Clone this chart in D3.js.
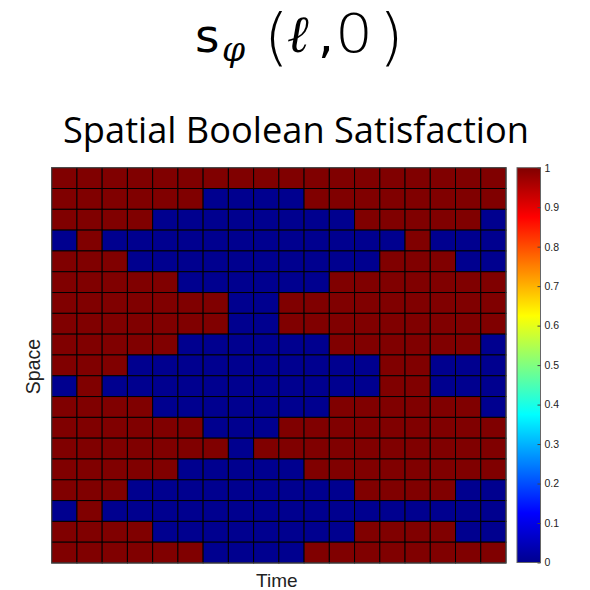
<!DOCTYPE html>
<html>
<head>
<meta charset="utf-8">
<script src="https://cdn.jsdelivr.net/npm/d3@7"></script>
<style>
  body { margin: 0; background: #fff; }
</style>
</head>
<body>
<svg></svg>
<script>
// satisfaction grid: one row per space location (top to bottom), one column per time step
var grid = [
  [1,1,1,1,1,1,1,1,1,1,1,1,1,1,1,1,1,1],
  [1,1,1,1,1,1,0,0,0,0,1,1,1,1,1,1,1,1],
  [1,1,1,1,0,0,0,0,0,0,0,0,1,1,1,1,1,0],
  [0,1,0,0,0,0,0,0,0,0,0,0,0,0,1,0,0,0],
  [1,1,1,0,0,0,0,0,0,0,0,0,0,1,1,1,0,0],
  [1,1,1,1,1,0,0,0,0,0,0,1,1,1,1,1,1,1],
  [1,1,1,1,1,1,1,0,0,1,1,1,1,1,1,1,1,1],
  [1,1,1,1,1,1,1,0,0,1,1,1,1,1,1,1,1,1],
  [1,1,1,1,1,0,0,0,0,0,0,1,1,1,1,1,1,0],
  [1,1,1,0,0,0,0,0,0,0,0,0,0,1,1,0,0,0],
  [0,1,0,0,0,0,0,0,0,0,0,0,0,1,1,0,0,0],
  [1,1,1,1,0,0,0,0,0,0,0,1,1,1,1,1,1,0],
  [1,1,1,1,1,1,0,0,0,1,1,1,1,1,1,1,1,1],
  [1,1,1,1,1,1,1,0,1,1,1,1,1,1,1,1,1,1],
  [1,1,1,1,1,0,0,0,0,0,1,1,1,1,1,1,1,1],
  [1,1,1,0,0,0,0,0,0,0,0,0,1,1,1,1,0,0],
  [0,1,0,0,0,0,0,0,0,0,0,0,0,0,0,0,0,0],
  [1,1,1,1,0,0,0,0,0,0,0,0,1,1,1,1,0,0],
  [1,1,1,1,1,1,0,0,0,0,1,1,1,1,1,1,1,1]
];

var colorbarTicks = [0, 0.1, 0.2, 0.3, 0.4, 0.5, 0.6, 0.7, 0.8, 0.9, 1];

// matlab "jet" style colour stops
var jetStops = [0, 0.125, 0.375, 0.625, 0.875, 1];
var jetColors = ["#00008f", "#0000ff", "#00ffff", "#ffff00", "#ff0000", "#800000"];

var W = 590, H = 590;
var plot = {left: 51.7, top: 167.7, right: 506, bottom: 563};
var cbar = {left: 517, right: 540.5, top: 167.7, bottom: 562.5};

var svg = d3.select('svg')
  .attr('width', W)
  .attr('height', H)
  .style('background', '#fff');

var jet = d3.scaleLinear()
  .domain(jetStops)
  .range(jetColors)
  .interpolate(d3.interpolateRgb);

var nCols = grid[0].length;
var nRows = grid.length;

var x = d3.scaleBand()
  .domain(d3.range(nCols))
  .range([plot.left, plot.right]);

var y = d3.scaleBand()
  .domain(d3.range(nRows))
  .range([plot.top, plot.bottom]);

// formula title, set glyph by glyph like a math renderer would
var sans = '"DejaVu Sans", sans-serif';
var serif = '"DejaVu Serif", serif';
var glyphs = [
  {t: 's',      x: 195, y: 52, size: 47, font: sans},
  {t: '\u03C6', x: 222, y: 61, size: 33, font: serif, style: 'italic'},
  {t: '(',      x: 264, y: 58, size: 63, font: sans,  weight: '200'},
  {t: '\u2113', x: 287, y: 52, size: 52, font: serif, style: 'italic'},
  {t: ',',      x: 318, y: 52, size: 50, font: sans},
  {t: '0',      x: 335, y: 52, size: 53, font: sans, weight: '200', len: 38},
  {t: ')',      x: 379, y: 58, size: 63, font: sans,  weight: '200'}
];
svg.append('g')
  .selectAll('text')
  .data(glyphs)
  .enter()
  .append('text')
  .attr('x', d => d.x)
  .attr('y', d => d.y)
  .attr('textLength', d => d.len || null)
  .attr('lengthAdjust', 'spacingAndGlyphs')
  .style('font-family', d => d.font)
  .style('font-size', d => d.size + 'px')
  .style('font-weight', d => d.weight || 'normal')
  .style('font-style', d => d.style || 'normal')
  .style('fill', '#000')
  .text(d => d.t);

svg.append('text')
  .attr('x', 296)
  .attr('y', 143)
  .attr('text-anchor', 'middle')
  .attr('textLength', 466)
  .attr('lengthAdjust', 'spacingAndGlyphs')
  .style('font-family', '"Open Sans", "Noto Sans", sans-serif')
  .style('font-size', '36px')
  .style('fill', '#000')
  .text('Spatial Boolean Satisfaction');

// heatmap cells
var cells = [];
grid.forEach(function(row, r) {
  row.forEach(function(v, c) { cells.push({r: r, c: c, v: v}); });
});

svg.append('g')
  .selectAll('rect')
  .data(cells)
  .enter()
  .append('rect')
  .attr('x', d => x(d.c))
  .attr('y', d => y(d.r))
  .attr('width', x.bandwidth())
  .attr('height', y.bandwidth())
  .attr('fill', d => jet(d.v))
  .attr('stroke', '#000')
  .attr('stroke-width', 1);

svg.append('rect')
  .attr('x', plot.left)
  .attr('y', plot.top)
  .attr('width', plot.right - plot.left)
  .attr('height', plot.bottom - plot.top)
  .attr('fill', 'none')
  .attr('stroke', '#555')
  .attr('stroke-width', 1);

// axis labels
svg.append('text')
  .attr('x', (plot.left + plot.right) / 2 - 2)
  .attr('y', 587)
  .attr('text-anchor', 'middle')
  .style('font-family', '"Liberation Sans", Arial, sans-serif')
  .style('font-size', '19px')
  .style('fill', '#222')
  .text('Time');

svg.append('text')
  .attr('transform', 'translate(40, 366.5) rotate(-90)')
  .attr('text-anchor', 'middle')
  .style('font-family', '"Liberation Sans", Arial, sans-serif')
  .style('font-size', '19.5px')
  .style('fill', '#222')
  .text('Space');

// colorbar
var defs = svg.append('defs');
var grad = defs.append('linearGradient')
  .attr('id', 'jet')
  .attr('x1', 0).attr('y1', 1)
  .attr('x2', 0).attr('y2', 0);
grad.selectAll('stop')
  .data(d3.range(0, 1.0001, 1 / 64))
  .enter()
  .append('stop')
  .attr('offset', d => d)
  .attr('stop-color', d => jet(d));

svg.append('rect')
  .attr('x', cbar.left)
  .attr('y', cbar.top)
  .attr('width', cbar.right - cbar.left)
  .attr('height', cbar.bottom - cbar.top)
  .attr('fill', 'url(#jet)')
  .attr('stroke', '#666')
  .attr('stroke-width', 1);

var cy = d3.scaleLinear()
  .domain([0, 1])
  .range([cbar.bottom, cbar.top]);

var cAxis = d3.axisRight(cy)
  .tickValues(colorbarTicks)
  .tickSize(-3)
  .tickPadding(4)
  .tickFormat(d3.format('~g'));

var ca = svg.append('g')
  .attr('transform', `translate(${cbar.right}, 0)`)
  .call(cAxis);
ca.select('.domain').remove();
ca.selectAll('.tick line').attr('stroke', '#444');
ca.selectAll('text')
  .style('font-family', '"Liberation Sans", Arial, sans-serif')
  .style('font-size', '10.5px')
  .attr('fill', '#222');
</script>
</body>
</html>
